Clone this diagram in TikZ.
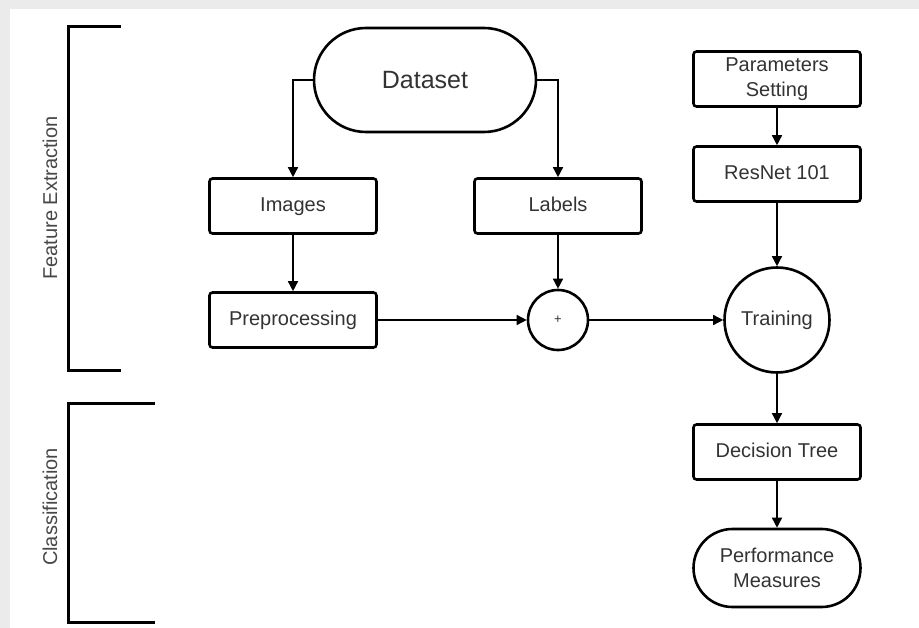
\documentclass[tikz,border=0pt]{standalone}
\usepackage{fontspec}
\setmainfont{Liberation Sans}
\usetikzlibrary{shapes.misc,arrows.meta}
\tikzset{
  box/.style={draw=black,line width=2.6pt,rounded corners=3pt,minimum width=167pt,minimum height=55pt,inner sep=0pt,align=center,font=\fontsize{20}{25}\selectfont,text=black!80},
  oneline/.style={text height=14.5pt,text depth=4pt},
  term/.style={rounded rectangle,draw=black,line width=2.6pt,inner sep=0pt,align=center,text=black!80},
  circ/.style={circle,draw=black,line width=2.6pt,inner sep=0pt,align=center,text=black!80},
  arr/.style={line width=1.5pt,-{Triangle[width=10pt,length=10pt]}},
  brk/.style={line width=3pt},
  sidelabel/.style={rotate=90,font=\fontsize{20}{24}\selectfont,text=black!72}
}
\begin{document}
\begin{tikzpicture}[x=1pt,y=-1pt]
\useasboundingbox (0,0) rectangle (919,628);
\fill[black!8] (0,0) rectangle (919,628);
\fill[white] (10,9) rectangle (919,628);

% brackets
\coordinate (fa) at (121,27); \coordinate (fb) at (68,27);
\coordinate (fc) at (68,371); \coordinate (fd) at (121,371);
\draw[brk] (fa) -- (fb) -- (fc) -- (fd);
\coordinate (ca) at (155,404); \coordinate (cb) at (68,404);
\coordinate (cc) at (68,622); \coordinate (cd) at (155,622);
\draw[brk] (ca) -- (cb) -- (cc) -- (cd);
\node[sidelabel] (fe) at (50,198) {Feature Extraction};
\node[sidelabel] (cl) at (50,507) {Classification};

% nodes
\node[term,minimum width=222pt,minimum height=104pt,font=\fontsize{25}{30}\selectfont] (ds) at (425,80) {Dataset};
\node[box,oneline] (img) at (293,206) {Images};
\node[box,oneline] (lab) at (558,206) {Labels};
\node[box,oneline] (pre) at (293,320) {Preprocessing};
\node[circ,minimum size=60pt,font=\fontsize{13}{15}\selectfont] (plus) at (558,320) {+};
\node[circ,minimum size=105pt,font=\fontsize{20}{25}\selectfont,text height=14.5pt,text depth=4pt] (train) at (777,320) {Training};
\node[box] (par) at (777,79) {Parameters\\Setting};
\node[box,oneline] (res) at (777,174) {ResNet 101};
\node[box,oneline] (dt) at (777,452) {Decision Tree};
\node[term,minimum width=167pt,minimum height=78pt,font=\fontsize{20}{25}\selectfont] (pm) at (777,568) {Performance\\Measures};

% connectors
\draw[arr] (ds.west) -| (img.north);
\draw[arr] (ds.east) -| (lab.north);
\draw[arr] (img) -- (pre);
\draw[arr] (lab) -- (plus);
\draw[arr] (pre) -- (plus);
\draw[arr] (plus) -- (train);
\draw[arr] (par) -- (res);
\draw[arr] (res) -- (train);
\draw[arr] (train) -- (dt);
\draw[arr] (dt) -- (pm);
\end{tikzpicture}
\end{document}
